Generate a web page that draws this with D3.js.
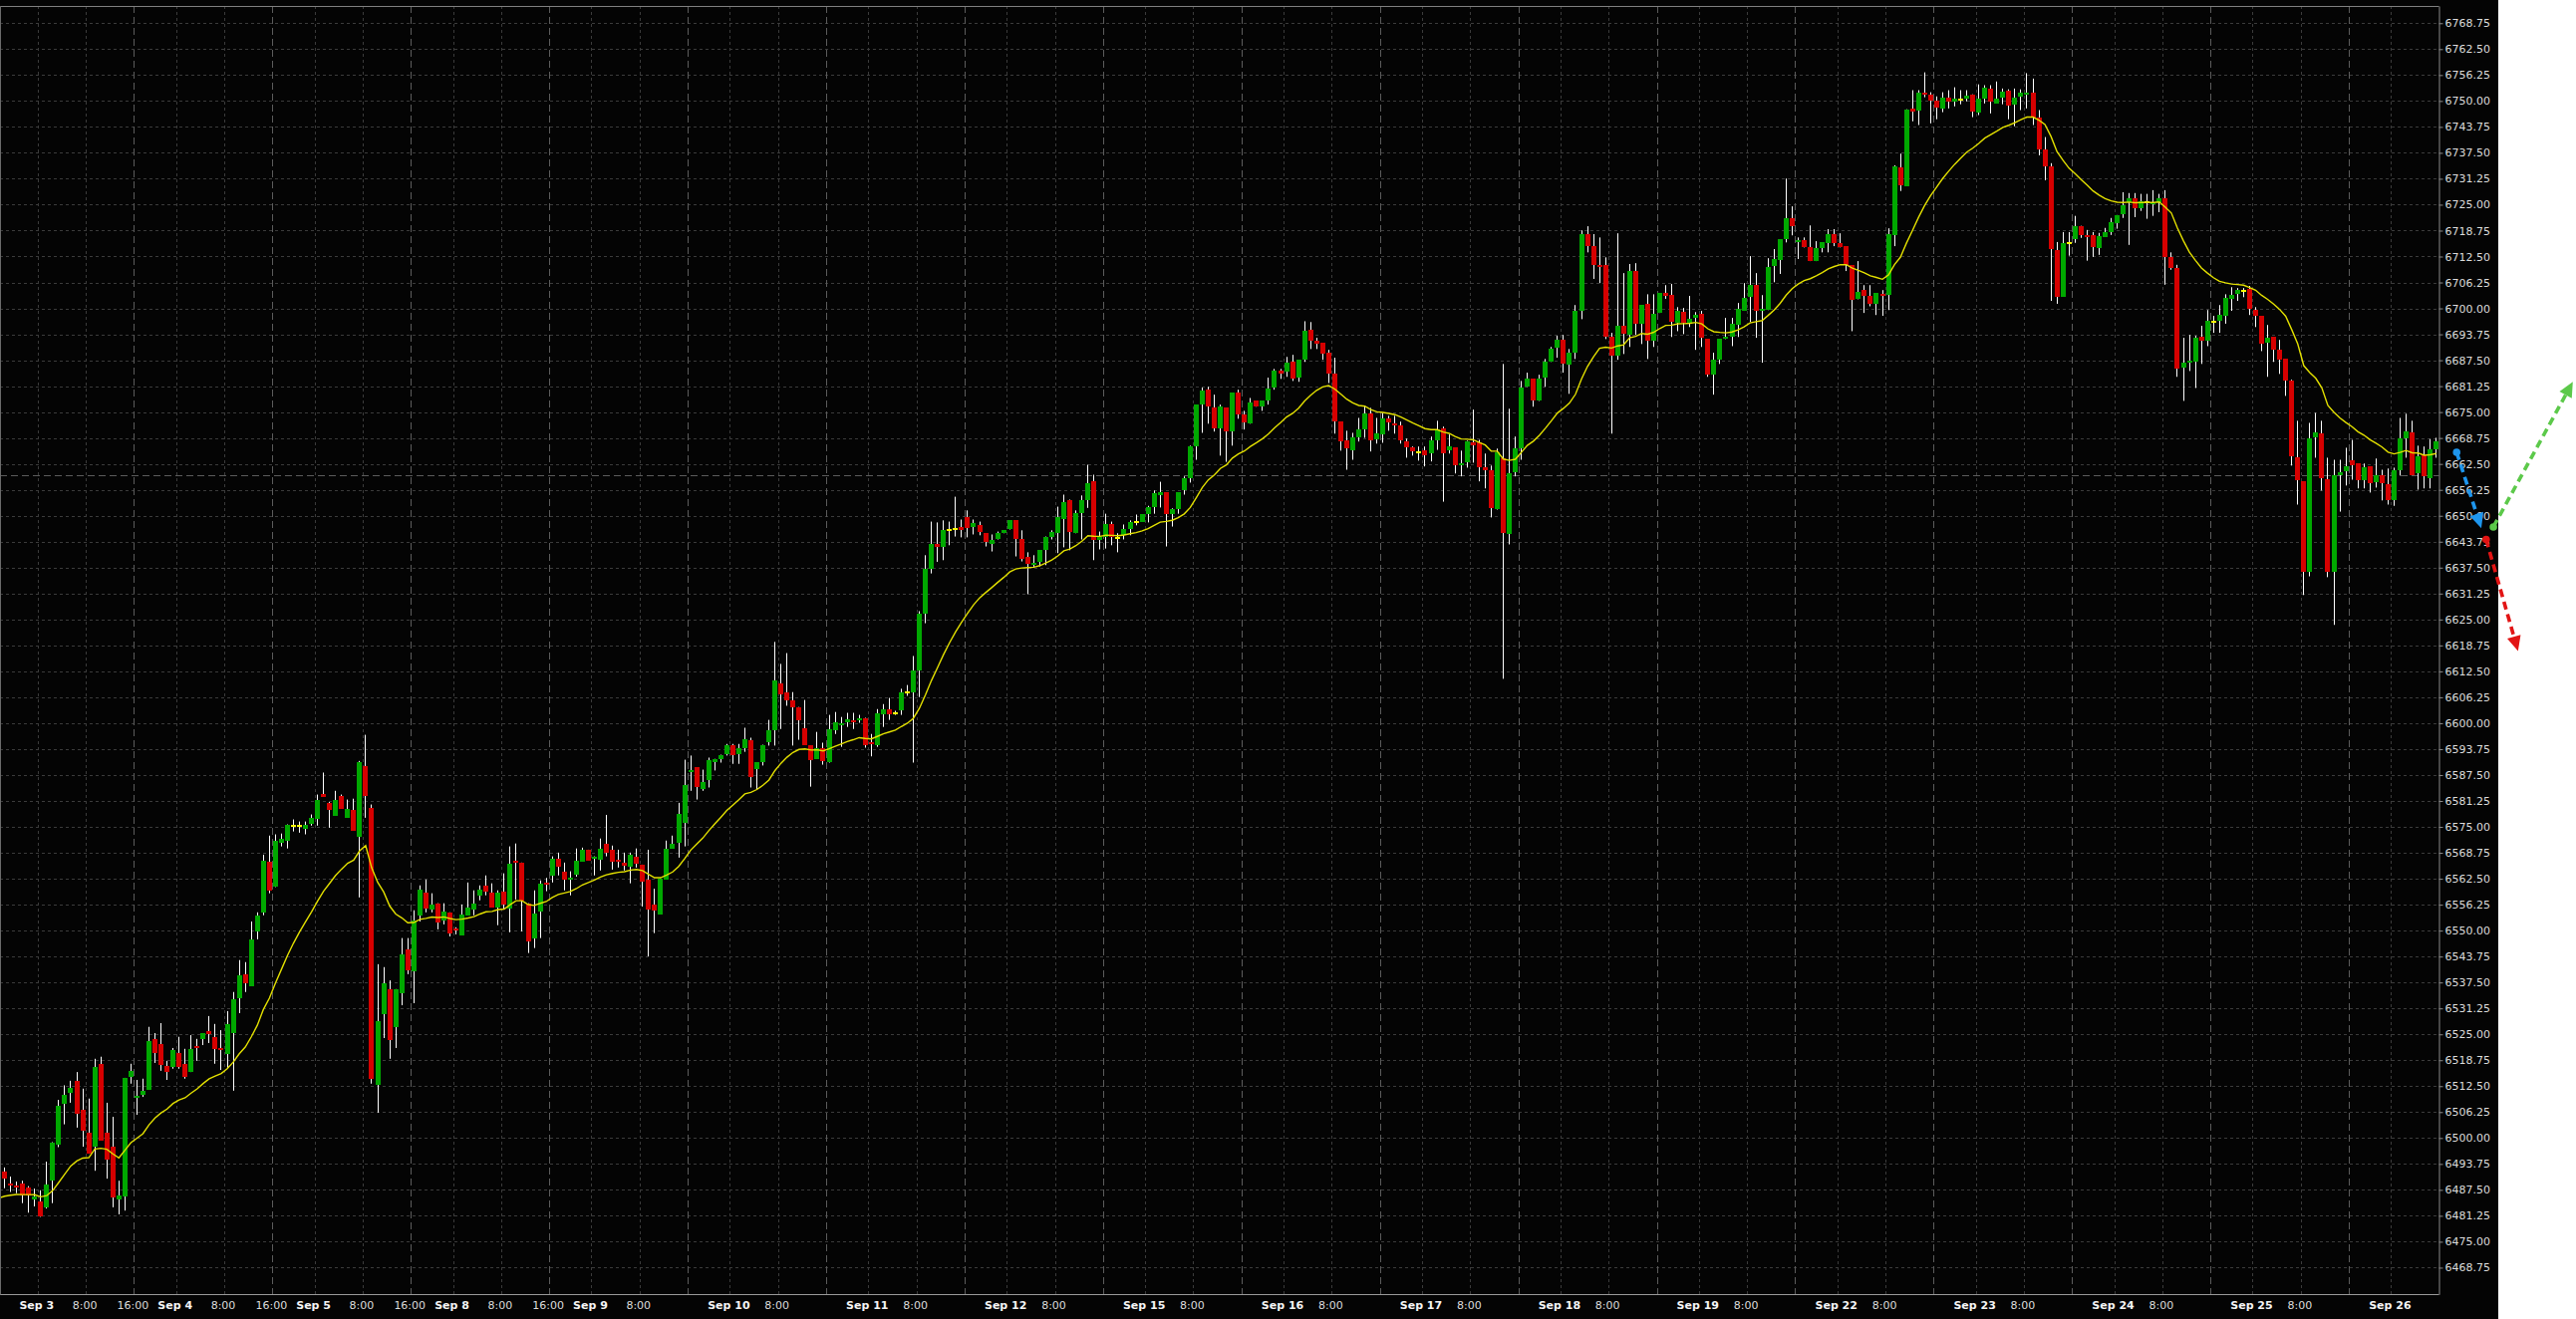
<!DOCTYPE html>
<html><head><meta charset="utf-8">
<script src="https://cdn.jsdelivr.net/npm/d3@7"></script>
<style>
html,body{margin:0;padding:0;background:#fff;}
svg{display:block;}
</style>
</head><body>
<svg id="chart" width="2585" height="1324"></svg>
<script>
// ---------------- DATA ----------------
const tradingDays = ["Sep 3","Sep 4","Sep 5","Sep 8","Sep 9","Sep 10","Sep 11","Sep 12","Sep 15","Sep 16","Sep 17","Sep 18","Sep 19","Sep 22","Sep 23","Sep 24","Sep 25","Sep 26"];
const sessionHours = [18,19,20,21,22,23,0,1,2,3,4,5,6,7,8,9,10,11,12,13,14,15,16];
const show16Days = ["Sep 3","Sep 4","Sep 5","Sep 8"];
const yTicks = [6468.75,6475.00,6481.25,6487.50,6493.75,6500.00,6506.25,6512.50,6518.75,6525.00,6531.25,6537.50,6543.75,6550.00,6556.25,6562.50,6568.75,6575.00,6581.25,6587.50,6593.75,6600.00,6606.25,6612.50,6618.75,6625.00,6631.25,6637.50,6643.75,6650.00,6656.25,6662.50,6668.75,6675.00,6681.25,6687.50,6693.75,6700.00,6706.25,6712.50,6718.75,6725.00,6731.25,6737.50,6743.75,6750.00,6756.25,6762.50,6768.75];
const refPrice = 6659.9;
const emaPeriod = 20;
const emaStart = 6485.5;

const opens = [
6503.0,6491.9,6489.0,6488.5,6489.0,6488.1,6485.3,6484.7,6483.3,6489.7,
6498.4,6508.3,6510.9,6513.8,6506.8,6501.3,6497.9,6517.9,6501.3,6497.9,
6485.2,6485.9,6514.7,6509.7,6510.4,6511.6,6523.9,6522.7,6517.4,6517.1,
6520.5,6517.9,6515.9,6522.2,6523.9,6525.8,6524.4,6521.7,6520.3,6525.3,
6533.7,6539.5,6536.6,6549.8,6554.4,6566.7,6560.5,6571.2,6571.7,6575.3,
6575.3,6574.6,6575.8,6577.0,6583.0,6580.8,6577.7,6582.5,6577.2,6579.2,
6572.7,6589.7,6579.6,6512.8,6529.9,6535.9,6526.8,6534.9,6545.5,6540.3,
6553.7,6559.2,6555.1,6556.6,6552.5,6554.4,6550.6,6548.9,6553.7,6555.1,
6558.5,6560.9,6559.2,6555.6,6559.5,6555.4,6566.9,6566.4,6556.6,6548.2,
6554.6,6561.4,6563.3,6567.4,6564.3,6562.3,6563.5,6566.7,6569.5,6567.4,
6567.2,6571.0,6569.5,6567.2,6566.4,6565.5,6567.9,6565.9,6562.3,6556.3,
6553.9,6562.3,6569.8,6571.2,6576.0,6588.1,6589.3,6584.2,6586.4,6590.5,
6591.4,6592.6,6594.6,6592.6,6594.1,6596.0,6589.0,6590.7,6595.5,6598.4,
6609.5,6607.5,6605.6,6603.9,6598.9,6594.6,6591.4,6594.1,6590.5,6598.4,
6599.6,6600.3,6600.8,6600.6,6601.3,6595.5,6594.8,6602.2,6603.4,6602.5,
6603.0,6607.5,6607.5,6612.6,6626.5,6637.3,6643.3,6642.6,6646.5,6646.7,
6647.2,6649.6,6647.2,6647.7,6645.8,6643.1,6644.3,6645.8,6646.7,6648.9,
6644.3,6640.0,6638.1,6638.8,6641.7,6644.8,6645.8,6649.1,6653.7,6645.8,
6650.6,6653.9,6658.3,6644.1,6645.0,6647.9,6644.6,6645.3,6646.9,6648.4,
6648.6,6650.3,6652.2,6655.1,6655.6,6650.5,6651.5,6656.1,6659.0,6666.7,
6676.8,6680.4,6676.0,6671.0,6676.0,6670.3,6679.6,6674.4,6672.2,6677.7,
6676.3,6677.7,6680.9,6684.9,6684.7,6687.1,6683.3,6687.6,6694.8,6692.1,
6691.7,6689.3,6684.4,6672.7,6668.1,6665.9,6668.8,6670.8,6674.6,6668.4,
6669.6,6673.4,6672.2,6671.9,6667.9,6666.4,6665.2,6665.7,6665.0,6668.3,
6671.0,6665.7,6666.4,6662.1,6662.8,6667.6,6667.6,6661.6,6661.1,6651.5,
6663.8,6645.5,6660.4,6666.2,6681.1,6683.0,6677.7,6683.3,6687.1,6690.5,
6692.4,6686.4,6689.3,6699.4,6717.9,6715.0,6710.4,6710.4,6693.1,6688.5,
6695.8,6693.6,6709.0,6696.3,6701.0,6692.1,6698.9,6703.7,6703.2,6696.5,
6699.1,6696.5,6697.7,6698.6,6692.6,6684.0,6687.6,6692.6,6693.1,6696.0,
6699.4,6702.7,6705.6,6699.4,6699.6,6710.2,6711.6,6716.7,6721.7,6715.9,
6716.4,6714.7,6711.4,6714.5,6715.7,6717.9,6715.7,6715.0,6710.4,6702.2,
6704.4,6702.9,6701.0,6703.5,6703.2,6717.6,6734.1,6729.5,6748.2,6747.8,
6752.1,6751.6,6750.2,6748.2,6750.9,6749.9,6750.4,6750.6,6751.6,6747.3,
6750.6,6753.0,6749.4,6750.9,6752.6,6749.2,6751.1,6751.6,6752.1,6746.1,
6738.4,6734.3,6714.1,6702.8,6715.8,6716.7,6719.9,6717.7,6717.7,6714.6,
6717.2,6718.4,6720.6,6722.8,6725.6,6726.6,6724.2,6725.6,6725.2,6725.6,
6726.6,6712.4,6709.8,6685.7,6686.9,6687.1,6693.1,6692.1,6696.8,6697.0,
6698.2,6702.3,6703.4,6704.2,6704.6,6699.6,6698.2,6691.7,6693.1,6690.0,
6687.8,6682.5,6664.0,6658.3,6636.6,6668.8,6669.8,6658.8,6636.4,6659.7,
6660.7,6663.5,6662.6,6658.5,6661.9,6658.0,6659.7,6657.6,6653.7,6660.9,
6668.6,6670.0,6660.2,6664.7,6659.0,6666.0];

const highs = [
6504.0,6492.9,6490.7,6489.5,6489.7,6488.4,6487.8,6487.4,6494.3,6499.0,
6509.2,6512.7,6513.8,6515.9,6511.9,6509.5,6519.1,6519.6,6508.5,6505.1,
6489.7,6514.5,6517.9,6514.0,6514.3,6526.8,6525.3,6527.7,6518.6,6521.7,
6524.4,6521.5,6524.8,6523.9,6525.3,6529.4,6527.5,6526.0,6530.6,6535.2,
6542.9,6542.4,6552.2,6554.4,6568.3,6572.9,6573.2,6573.4,6575.6,6576.8,
6576.3,6576.3,6578.0,6582.8,6588.1,6581.0,6583.7,6582.8,6581.6,6581.8,
6590.9,6597.2,6580.4,6541.9,6541.2,6538.0,6535.9,6548.2,6548.2,6554.9,
6560.9,6562.3,6559.0,6556.6,6556.6,6554.4,6550.8,6556.3,6561.6,6559.7,
6560.9,6563.3,6561.4,6559.7,6563.8,6570.3,6571.0,6566.4,6556.6,6559.7,
6562.1,6562.7,6567.9,6568.8,6566.4,6564.3,6569.8,6570.0,6569.5,6567.9,
6572.2,6577.9,6570.5,6569.5,6568.8,6568.8,6569.8,6565.9,6569.5,6560.1,
6562.6,6571.7,6572.9,6580.8,6591.2,6592.2,6589.3,6588.8,6591.7,6591.4,
6592.4,6595.0,6595.0,6595.0,6598.9,6596.5,6590.5,6594.8,6600.8,6619.6,
6614.3,6616.9,6607.5,6603.9,6605.6,6594.6,6597.9,6595.3,6602.0,6602.7,
6601.5,6602.5,6602.5,6602.0,6601.3,6597.4,6603.4,6604.6,6606.1,6603.0,
6608.3,6609.2,6616.2,6627.0,6640.5,6648.6,6648.4,6648.9,6648.6,6654.6,
6649.1,6651.3,6649.1,6648.6,6645.8,6645.5,6646.2,6646.5,6648.9,6648.9,
6646.5,6641.2,6640.5,6641.7,6645.0,6646.5,6652.2,6655.1,6653.9,6651.3,
6654.9,6662.3,6659.9,6646.2,6650.5,6648.6,6645.8,6647.9,6648.9,6650.3,
6650.3,6652.4,6656.1,6658.2,6655.6,6651.8,6655.6,6659.5,6666.9,6676.8,
6680.9,6681.1,6679.2,6676.8,6676.0,6679.6,6680.4,6675.3,6678.4,6677.7,
6677.7,6683.3,6685.4,6685.4,6688.3,6688.8,6687.6,6696.9,6696.7,6692.9,
6691.7,6690.0,6688.1,6672.7,6670.5,6670.0,6673.6,6676.5,6676.0,6673.6,
6674.8,6674.1,6674.1,6672.7,6668.6,6666.7,6666.7,6666.7,6669.1,6672.9,
6671.5,6669.6,6666.4,6665.7,6668.1,6675.6,6668.3,6665.0,6662.1,6666.2,
6686.6,6675.8,6669.1,6682.5,6684.5,6683.0,6684.0,6687.8,6690.7,6693.4,
6693.6,6690.2,6700.8,6718.8,6719.8,6717.9,6717.1,6712.3,6694.1,6718.1,
6708.5,6710.7,6710.9,6700.8,6703.4,6703.4,6703.7,6705.6,6705.9,6700.3,
6700.1,6703.0,6699.1,6699.4,6692.6,6689.3,6692.6,6697.7,6697.7,6701.3,
6706.1,6712.6,6708.5,6703.2,6712.1,6714.3,6716.7,6731.3,6724.6,6717.1,
6717.1,6720.0,6716.2,6715.9,6719.1,6719.1,6718.1,6715.0,6710.4,6711.4,
6705.6,6705.6,6703.7,6704.4,6719.3,6734.5,6737.3,6748.0,6752.6,6752.6,
6756.9,6752.1,6751.1,6752.1,6752.6,6753.3,6752.6,6752.6,6751.6,6754.0,
6753.8,6753.8,6754.7,6753.0,6752.8,6753.0,6752.8,6756.7,6755.4,6747.8,
6741.3,6735.0,6716.0,6718.4,6718.4,6722.3,6719.9,6718.9,6718.4,6718.2,
6719.4,6721.8,6722.5,6728.0,6727.8,6727.8,6727.6,6727.6,6728.5,6727.6,
6728.5,6713.5,6710.5,6692.9,6693.6,6693.4,6695.8,6699.6,6698.2,6700.8,
6703.4,6705.1,6704.9,6704.9,6705.4,6700.3,6698.2,6696.0,6693.1,6692.4,
6687.8,6682.8,6672.9,6658.3,6672.4,6674.8,6672.9,6664.0,6663.5,6663.5,
6666.4,6668.3,6662.6,6662.6,6661.9,6663.8,6661.1,6661.4,6661.6,6673.6,
6674.6,6672.9,6666.9,6666.7,6668.5,6668.8];

const lows = [
6491.0,6487.9,6487.0,6486.7,6484.3,6482.0,6483.5,6481.0,6483.0,6484.3,
6497.8,6503.3,6508.5,6502.5,6497.9,6496.2,6492.1,6499.4,6490.2,6483.3,
6481.6,6482.5,6513.1,6505.6,6509.9,6511.6,6518.1,6516.2,6514.0,6516.7,
6516.7,6514.3,6515.9,6518.6,6522.4,6522.9,6517.9,6516.4,6516.7,6511.4,
6530.1,6535.2,6536.6,6547.9,6553.7,6559.0,6560.5,6570.3,6569.8,6573.9,
6573.6,6573.2,6575.3,6575.3,6582.3,6574.8,6577.7,6579.4,6577.2,6574.1,
6558.0,6577.2,6513.1,6506.1,6524.1,6519.1,6521.7,6532.0,6539.5,6532.5,
6552.2,6554.4,6554.4,6550.3,6551.5,6548.6,6549.1,6548.9,6553.7,6553.7,
6557.3,6558.5,6555.6,6551.3,6555.1,6549.6,6557.5,6549.8,6544.6,6545.8,
6548.2,6559.5,6561.6,6563.3,6559.7,6558.5,6563.0,6566.7,6566.9,6563.3,
6564.5,6567.9,6564.7,6565.2,6564.5,6561.4,6565.2,6555.8,6543.8,6549.4,
6553.9,6562.3,6569.8,6567.6,6570.3,6583.7,6581.6,6583.7,6584.5,6588.6,
6590.5,6592.2,6590.2,6590.2,6593.1,6584.5,6584.0,6589.8,6594.6,6594.6,
6598.6,6604.2,6594.6,6596.0,6594.8,6584.7,6591.4,6590.0,6590.5,6597.4,
6594.3,6599.1,6598.6,6600.1,6594.1,6592.0,6594.3,6599.1,6600.8,6602.0,
6602.0,6606.6,6590.5,6606.3,6624.1,6636.1,6638.9,6639.3,6642.9,6645.0,
6644.8,6644.8,6645.5,6645.3,6642.6,6641.4,6644.3,6645.8,6646.7,6640.2,
6639.0,6631.1,6637.6,6637.8,6638.1,6644.3,6641.0,6642.4,6641.7,6645.8,
6644.3,6651.9,6639.3,6641.9,6642.1,6642.9,6641.2,6644.3,6645.3,6647.7,
6648.6,6648.4,6650.5,6652.0,6642.6,6647.4,6650.5,6655.1,6658.0,6663.5,
6670.0,6672.2,6670.3,6664.5,6663.0,6666.9,6673.4,6670.8,6672.2,6676.3,
6675.3,6676.8,6680.4,6683.0,6683.5,6682.5,6682.3,6687.1,6690.2,6690.2,
6687.6,6682.0,6669.8,6665.7,6661.1,6663.5,6667.9,6668.8,6665.5,6667.4,
6667.6,6670.5,6669.8,6667.4,6664.0,6664.5,6663.3,6661.9,6663.1,6665.9,
6653.4,6665.0,6660.2,6659.5,6661.6,6662.8,6658.3,6656.6,6649.6,6651.5,
6610.7,6643.1,6659.5,6663.5,6681.1,6676.3,6677.7,6681.1,6687.1,6688.1,
6684.5,6679.4,6687.8,6697.4,6713.5,6707.1,6706.1,6692.6,6669.8,6687.6,
6689.0,6690.7,6693.6,6691.4,6687.8,6690.7,6698.9,6702.3,6693.1,6694.5,
6693.8,6695.5,6690.0,6690.7,6683.5,6679.2,6686.6,6692.6,6690.9,6693.1,
6699.4,6696.7,6692.9,6686.9,6699.6,6706.3,6708.3,6715.9,6717.6,6711.9,
6714.7,6711.4,6711.4,6713.5,6713.5,6715.0,6714.7,6709.0,6694.5,6702.2,
6698.9,6700.5,6698.4,6698.2,6699.6,6715.0,6728.3,6729.5,6745.1,6744.2,
6750.9,6744.6,6745.6,6747.3,6748.2,6748.7,6749.2,6749.9,6746.1,6746.6,
6749.4,6747.0,6749.4,6749.2,6745.6,6743.9,6747.8,6748.2,6744.2,6736.9,
6730.9,6701.8,6701.1,6702.8,6712.7,6715.8,6717.0,6711.5,6712.4,6712.9,
6717.2,6717.7,6719.2,6721.8,6715.3,6722.0,6723.5,6721.6,6722.3,6723.2,
6705.7,6709.3,6683.5,6677.7,6684.9,6680.8,6686.6,6690.9,6694.1,6694.1,
6696.3,6699.4,6701.8,6702.7,6698.4,6695.5,6689.7,6683.5,6687.1,6684.2,
6678.9,6662.1,6652.7,6630.9,6635.4,6664.0,6656.1,6635.2,6623.7,6651.0,
6657.3,6658.7,6656.6,6656.6,6655.6,6656.8,6653.7,6652.7,6652.4,6659.7,
6664.0,6659.9,6656.3,6656.6,6656.6,6664.0];

const closes = [
6492.0,6490.3,6488.5,6488.1,6486.2,6486.2,6486.0,6481.1,6488.8,6498.9,
6507.8,6510.4,6512.1,6505.8,6501.8,6496.2,6517.1,6499.4,6494.8,6485.7,
6486.1,6514.5,6516.2,6510.2,6511.4,6523.4,6520.5,6517.6,6515.9,6521.2,
6517.1,6514.7,6521.5,6521.7,6525.3,6525.1,6521.5,6521.2,6527.5,6533.5,
6539.3,6537.3,6547.9,6553.7,6566.9,6559.7,6571.7,6572.2,6575.6,6575.3,
6575.3,6575.6,6577.2,6581.6,6582.3,6579.2,6581.6,6579.4,6579.4,6574.1,
6590.7,6582.5,6514.3,6528.2,6537.3,6523.6,6535.9,6544.3,6540.5,6552.5,
6559.9,6555.4,6556.3,6552.0,6554.6,6549.4,6550.1,6553.9,6555.6,6556.6,
6559.9,6559.5,6555.6,6559.2,6556.3,6566.2,6566.4,6557.3,6547.4,6554.2,
6561.4,6561.0,6567.4,6565.5,6562.3,6562.8,6566.9,6569.5,6566.9,6567.9,
6569.8,6568.8,6566.7,6566.7,6565.7,6568.3,6566.2,6561.9,6555.1,6554.9,
6562.6,6569.8,6571.0,6578.2,6585.2,6588.8,6584.7,6585.9,6591.0,6591.4,
6592.4,6594.6,6592.4,6594.1,6596.2,6586.9,6590.5,6594.8,6598.4,6610.2,
6607.0,6605.6,6603.9,6600.6,6594.8,6591.2,6594.1,6590.9,6598.6,6600.3,
6600.1,6601.0,6600.3,6601.3,6594.6,6595.0,6602.5,6603.4,6602.2,6602.5,
6607.5,6607.5,6612.6,6626.5,6637.3,6643.3,6642.6,6646.5,6646.5,6646.7,
6646.5,6647.0,6648.2,6646.0,6643.6,6644.1,6645.8,6646.5,6648.9,6644.3,
6639.5,6638.3,6638.5,6641.7,6644.8,6646.2,6649.6,6653.2,6646.0,6650.6,
6653.9,6657.8,6644.1,6644.8,6647.9,6644.8,6644.6,6646.9,6648.6,6648.4,
6650.3,6652.0,6655.4,6655.6,6650.5,6651.5,6655.6,6659.0,6666.7,6676.8,
6680.1,6676.3,6671.0,6676.3,6670.3,6679.6,6674.4,6672.4,6677.2,6676.3,
6677.7,6680.6,6684.9,6684.4,6686.9,6683.0,6687.6,6694.5,6692.1,6691.4,
6689.0,6684.4,6672.7,6667.9,6666.2,6668.8,6670.8,6674.6,6668.1,6669.8,
6673.4,6672.4,6671.7,6668.1,6666.4,6665.5,6665.2,6664.7,6668.3,6670.8,
6665.0,6666.7,6662.1,6662.6,6667.9,6667.1,6661.6,6661.1,6651.8,6665.2,
6645.8,6660.2,6666.2,6680.9,6683.0,6677.7,6683.0,6687.1,6690.2,6692.4,
6686.6,6689.3,6699.4,6717.9,6715.0,6710.4,6709.9,6693.1,6688.5,6695.8,
6693.8,6709.0,6696.3,6700.8,6692.1,6698.6,6703.7,6703.0,6696.7,6699.4,
6696.5,6697.4,6698.4,6692.9,6684.0,6687.6,6692.6,6693.1,6696.2,6699.8,
6702.5,6705.6,6699.4,6699.8,6710.0,6711.9,6716.7,6721.7,6719.8,6716.4,
6714.7,6711.4,6714.5,6715.9,6717.9,6715.7,6714.7,6710.4,6702.0,6703.9,
6702.9,6701.0,6703.7,6703.0,6717.9,6734.2,6729.7,6748.0,6747.5,6752.1,
6751.6,6750.2,6748.5,6750.9,6749.9,6750.6,6750.4,6751.4,6747.5,6750.6,
6753.3,6749.9,6750.6,6752.3,6749.0,6750.9,6752.1,6752.1,6746.1,6738.4,
6734.3,6714.3,6702.8,6715.8,6715.8,6719.9,6717.7,6717.2,6714.8,6717.5,
6718.4,6720.8,6722.5,6724.9,6726.6,6724.2,6725.9,6725.6,6725.6,6726.6,
6712.4,6709.8,6685.4,6686.9,6687.3,6692.9,6692.1,6697.0,6696.8,6698.4,
6702.5,6703.2,6704.4,6704.2,6699.8,6698.2,6691.4,6692.9,6690.0,6687.6,
6682.5,6664.3,6658.5,6636.6,6668.6,6670.0,6659.0,6636.4,6659.7,6660.4,
6661.9,6662.1,6658.5,6661.6,6657.8,6659.7,6657.8,6653.7,6660.9,6668.6,
6670.3,6659.9,6664.3,6659.5,6666.0,6667.9];

// projection arrows (bar index, price)
const arrowColors = ["#1e96ee", "#5cc94a", "#e21414"];
const arrowStartBar = [408.4, 414.5, 413.3];
const arrowStartPrice = [6665.3, 6647.3, 6644.3];
const arrowEndBar = [412.5, 427.7, 418.6];
const arrowEndPrice = [6647.0, 6682.3, 6617.4];

// ---------------- LAYOUT ----------------
const W = 2585, H = 1324;
const panelRight = 2507;
const plotLeft = 0, plotRight = 2447.5, plotTop = 6, plotBottom = 1299.5;
const n = closes.length;

const svg = d3.select("#chart");
const x = d3.scaleLinear().domain([0, n - 1]).range([-1.5, -1.5 + 6.04 * (n - 1)]);
const y = d3.scaleLinear().domain([6462.3, 6772.9]).range([1299.3, 6]);
const step = x(1) - x(0);

svg.append("rect").attr("x", 0).attr("y", 0).attr("width", panelRight).attr("height", H).attr("fill", "#040404");

svg.append("defs").append("clipPath").attr("id", "plotclip")
  .append("rect").attr("x", plotLeft).attr("y", plotTop).attr("width", plotRight - plotLeft).attr("height", plotBottom - plotTop);

// bar times
const bars = d3.range(n).map(j => {
  if (j === 0) return {j, hour: 16, day: null};
  const s = Math.floor((j - 1) / sessionHours.length);
  const p = (j - 1) % sessionHours.length;
  return {j, hour: sessionHours[p], day: tradingDays[s]};
});
const tickBars = bars.filter(b => b.j > 0 && (b.hour === 0 || b.hour === 8 || b.hour === 16));

const grid = svg.append("g");
// horizontal grid
grid.selectAll("line.h").data(yTicks).join("line")
  .attr("x1", plotLeft).attr("x2", plotRight)
  .attr("y1", d => Math.round(y(d)) + 0.5).attr("y2", d => Math.round(y(d)) + 0.5)
  .attr("stroke", "#3b3b3b").attr("stroke-dasharray", "3,3");
// vertical grid
grid.selectAll("line.v").data(tickBars).join("line")
  .attr("x1", d => Math.round(x(d.j) - step / 2) + 0.5).attr("x2", d => Math.round(x(d.j) - step / 2) + 0.5)
  .attr("y1", plotTop).attr("y2", plotBottom)
  .attr("stroke", d => d.hour === 16 ? "#5c5c5c" : "#3b3b3b")
  .attr("stroke-dasharray", d => d.hour === 16 ? "7,4" : "3,3");
// reference price line
grid.append("line")
  .attr("x1", plotLeft).attr("x2", plotRight)
  .attr("y1", Math.round(y(refPrice)) + 0.5).attr("y2", Math.round(y(refPrice)) + 0.5)
  .attr("stroke", "#5c5c5c").attr("stroke-dasharray", "7,4");

// candles
const cg = svg.append("g").attr("clip-path", "url(#plotclip)");
const data = d3.range(n).map(j => ({j, o: opens[j], h: highs[j], l: lows[j], c: closes[j]}));
cg.selectAll("line.w").data(data).join("line")
  .attr("x1", d => Math.floor(x(d.j)) + 0.5).attr("x2", d => Math.floor(x(d.j)) + 0.5)
  .attr("y1", d => y(d.h)).attr("y2", d => y(d.l))
  .attr("stroke", "#ffffff").attr("stroke-width", 1);
cg.selectAll("rect.b").data(data).join("rect")
  .attr("x", d => x(d.j) - 2.5).attr("width", 5)
  .attr("y", d => {
    const top = y(Math.max(d.o, d.c)), bot = y(Math.min(d.o, d.c));
    return (bot - top) < 2 ? (top + bot) / 2 - 1 : top;
  })
  .attr("height", d => Math.max(2, y(Math.min(d.o, d.c)) - y(Math.max(d.o, d.c))))
  .attr("fill", d => d.c > d.o ? "#00a800" : (d.c < d.o ? "#d60000" : "#ffff00"))
  .attr("shape-rendering", "crispEdges");

// EMA line
const alpha = 2 / (emaPeriod + 1);
const ema = [];
closes.forEach((c, j) => { ema.push(j === 0 ? emaStart : ema[j - 1] + alpha * (c - ema[j - 1])); });
cg.append("path")
  .attr("d", d3.line().x((d, j) => x(j)).y(d => y(d))(ema))
  .attr("fill", "none").attr("stroke", "#e3e000").attr("stroke-width", 1.4);

// frame
svg.append("line").attr("x1", 0).attr("x2", plotRight).attr("y1", plotTop + 0.5).attr("y2", plotTop + 0.5).attr("stroke", "#808080");
svg.append("line").attr("x1", 0).attr("x2", plotRight).attr("y1", plotBottom).attr("y2", plotBottom).attr("stroke", "#9a9a9a");
svg.append("line").attr("x1", 0.5).attr("x2", 0.5).attr("y1", plotTop).attr("y2", plotBottom).attr("stroke", "#6a6a6a");

// right axis
const yAxis = d3.axisRight(y).tickValues(yTicks).tickSize(4).tickSizeOuter(0).tickPadding(2).tickFormat(d3.format(".2f"));
const ag = svg.append("g").attr("transform", `translate(${plotRight},0)`).call(yAxis);
ag.select(".domain").attr("stroke", "#8a8a8a");
ag.selectAll(".tick line").attr("stroke", "#8a8a8a");
ag.selectAll(".tick text").attr("fill", "#dcdcdc").style("font-family", "DejaVu Sans").style("font-size", "11px");

// bottom labels
const labels = tickBars.filter(b => b.hour === 0 || b.hour === 8 || (b.hour === 16 && show16Days.includes(b.day)));
svg.append("g").selectAll("text").data(labels).join("text")
  .attr("x", d => x(d.j) - step / 2 - 1)
  .attr("y", 1314)
  .attr("text-anchor", "middle")
  .style("font-family", "DejaVu Sans")
  .style("font-size", "11px")
  .style("font-weight", d => d.hour === 0 ? "bold" : "normal")
  .attr("fill", d => d.hour === 0 ? "#f4f4f4" : "#dcdcdc")
  .text(d => d.hour === 0 ? d.day : d.hour + ":00");

// arrows
const ar = svg.append("g");
arrowColors.forEach((col, i) => {
  const x1 = x(arrowStartBar[i]), y1 = y(arrowStartPrice[i]);
  const x2 = x(arrowEndBar[i]), y2 = y(arrowEndPrice[i]);
  const dx = x2 - x1, dy = y2 - y1, L = Math.hypot(dx, dy), ux = dx / L, uy = dy / L;
  const hl = 15, hw = 7;
  const bx = x2 - ux * hl, by = y2 - uy * hl;
  ar.append("line").attr("x1", x1).attr("y1", y1).attr("x2", bx + ux * 2).attr("y2", by + uy * 2)
    .attr("stroke", col).attr("stroke-width", 3.6).attr("stroke-dasharray", "8,5");
  ar.append("path")
    .attr("d", `M${x2},${y2}L${bx - uy * hw},${by + ux * hw}L${bx + uy * hw},${by - ux * hw}Z`)
    .attr("fill", col);
  ar.append("circle").attr("cx", x1).attr("cy", y1).attr("r", 3.8).attr("fill", col);
});
</script>
</body></html>
